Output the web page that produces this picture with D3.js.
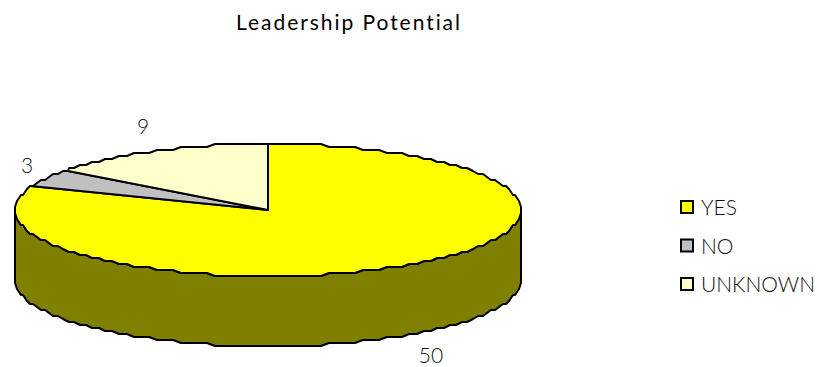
<!DOCTYPE html>
<html><head><meta charset="utf-8">
<script src="https://cdn.jsdelivr.net/npm/d3@7"></script>
<style>
html,body{margin:0;padding:0;background:#fff;overflow:hidden}
text{font-family:Lato,"Open Sans",sans-serif;font-weight:300;fill:#111}
</style></head><body>
<svg id="c" width="820" height="367"></svg>
<script>
const titleText = "Leadership Potential";
const categories = ["YES","NO","UNKNOWN"];
const values = [50,3,9];
const topColors = ["#ffff00","#c0c0c0","#ffffcc"];
const sideColors = ["#808000","#606060","#808066"];

const svg = d3.select("#c");
const x = d3.scaleLinear().domain([-1,1]).range([15,521]);
const y = d3.scaleLinear().domain([-1,1]).range([276,144]);
const depth = 70;
const cx = x(0), cy = y(0);
const snap = v => Math.round(v/3)*3;
const pt = t => [Math.round(x(Math.sin(t))), snap(y(Math.cos(t)))];
const rimStep = 2*Math.PI/180;
function rim(a0,a1){
  const pts=[];
  const first=Math.ceil(a0/rimStep), last=Math.floor(a1/rimStep);
  pts.push(pt(a0));
  for(let i=first;i<=last;i++) pts.push(pt(i*rimStep));
  pts.push(pt(a1));
  return pts;
}
const line = d3.line();
const arcs = d3.pie().sort(null)(values);

// extruded wall: visible front half of the rim only
arcs.forEach((a,i)=>{
  const s=Math.max(a.startAngle,Math.PI/2), e=Math.min(a.endAngle,3*Math.PI/2);
  if(e<=s) return;
  const r=rim(s,e);
  const low=r.map(p=>[p[0],p[1]+depth]).reverse();
  svg.append("path").attr("d",line(r.concat(low))+"Z")
    .attr("fill",sideColors[i]).attr("stroke","#000").attr("stroke-width",2).attr("stroke-linejoin","round");
});
// top face
arcs.forEach((a,i)=>{
  const r=rim(a.startAngle,a.endAngle);
  svg.append("path").attr("d",line([[cx,cy]].concat(r))+"Z")
    .attr("fill",topColors[i]).attr("stroke","#000").attr("stroke-width",2).attr("stroke-linejoin","round");
});
// data labels
const labelPos = [[431,356],[27,166],[143,127]];
values.forEach((v,i)=>{
  svg.append("text").attr("x",labelPos[i][0]).attr("y",labelPos[i][1]).attr("dy","0.35em")
    .attr("text-anchor","middle").attr("font-size",21).text(v);
});
// title
svg.append("text").attr("x",349).attr("y",30).attr("text-anchor","middle")
  .attr("font-size",21).attr("letter-spacing",1.95).style("font-weight",400).style("fill","#000").text(titleText);
// legend
const ly = d3.scalePoint().domain(categories).range([207,284]);
categories.forEach((c,i)=>{
  svg.append("rect").attr("x",681).attr("y",ly(c)-6).attr("width",12).attr("height",12)
    .attr("fill",topColors[i]).attr("stroke","#000").attr("stroke-width",2);
  svg.append("text").attr("x",701).attr("y",ly(c)+1).attr("dy","0.35em").attr("font-size",21).text(c);
});
</script></body></html>
